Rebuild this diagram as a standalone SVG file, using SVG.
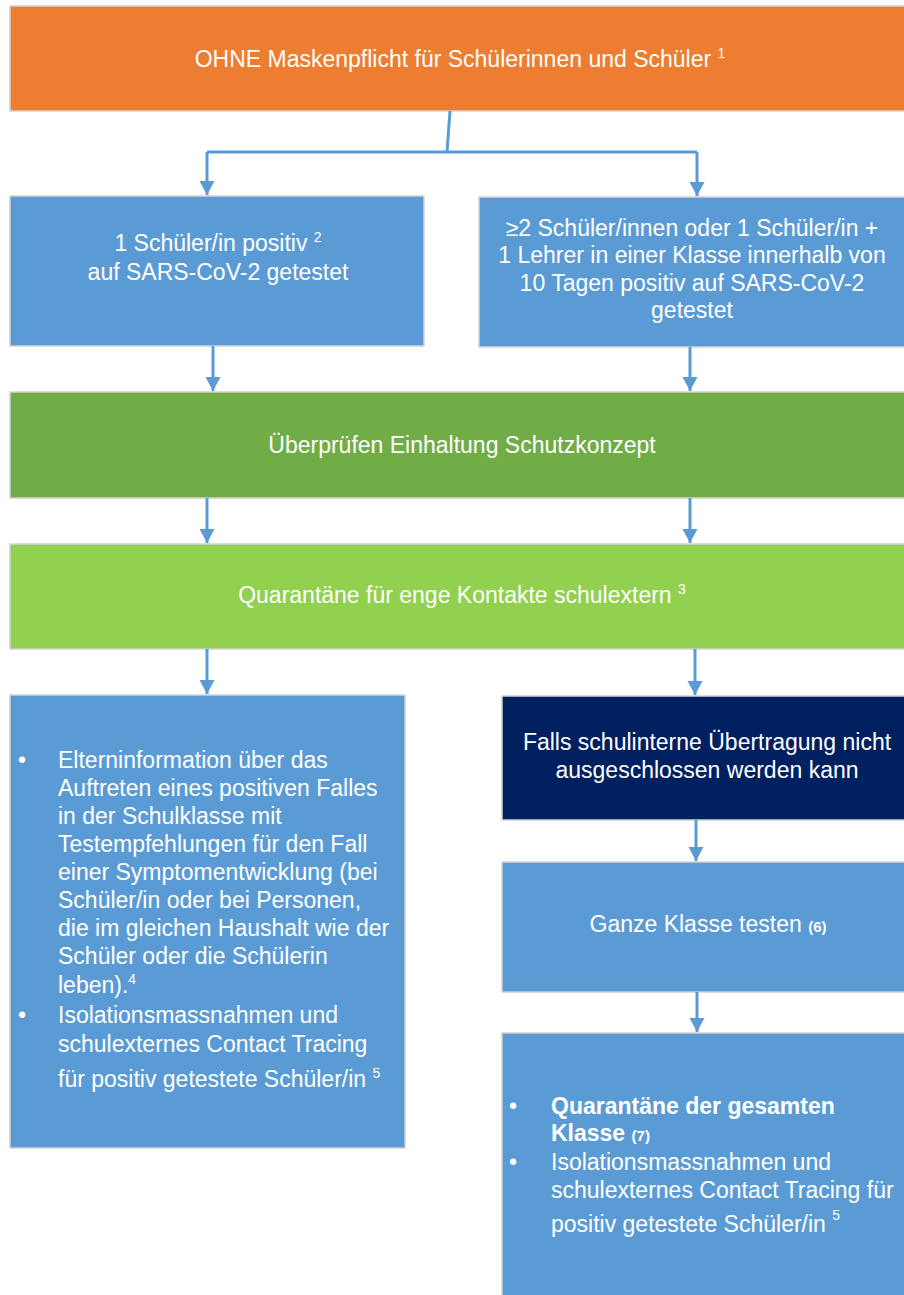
<svg xmlns="http://www.w3.org/2000/svg" width="904" height="1295" viewBox="0 0 904 1295">
<defs>
<style>
.box{stroke:#d2d2d2;stroke-width:1.5}
.t{font-family:"Liberation Sans",Arial,sans-serif;font-size:23px;fill:#ffffff}
.c{text-anchor:middle}
.sup{font-size:14px}
.b{font-weight:bold}
.sm{font-size:15px;font-weight:bold}
.con{stroke:#5b9bd5;stroke-width:3;fill:none}
</style>
<marker id="ah" markerUnits="userSpaceOnUse" markerWidth="16" markerHeight="16" refX="14" refY="8" orient="auto">
<path d="M0,0.5 L14,8 L0,15.5 z" fill="#5b9bd5"/>
</marker>
</defs>
<rect width="904" height="1295" fill="#ffffff"/>

<g id="n-top">
<rect class="box" x="10" y="6" width="910" height="105" fill="#ed7d31"/>
<text class="t c" x="460" y="67">OHNE Maskenpflicht für Schülerinnen und Schüler <tspan class="sup" dy="-9">1</tspan></text>
</g>

<g id="n-one">
<rect class="box" x="10" y="196" width="414" height="150" fill="#5b9bd5"/>
<text class="t c" x="218" y="251">1 Schüler/in positiv <tspan class="sup" dy="-9">2</tspan></text>
<text class="t c" x="218" y="280">auf SARS-CoV-2 getestet</text>
</g>

<g id="n-two">
<rect class="box" x="479" y="197" width="441" height="150" fill="#5b9bd5"/>
<text class="t c" x="692" y="236">≥2 Schüler/innen oder 1 Schüler/in +</text>
<text class="t c" x="692" y="263">1 Lehrer in einer Klasse innerhalb von</text>
<text class="t c" x="692" y="291">10 Tagen positiv auf SARS-CoV-2</text>
<text class="t c" x="692" y="318">getestet</text>
</g>

<g id="n-check">
<rect class="box" x="10" y="392" width="910" height="106" fill="#70ad47"/>
<text class="t c" x="462" y="453">Überprüfen Einhaltung Schutzkonzept</text>
</g>

<g id="n-quar">
<rect class="box" x="10" y="544" width="910" height="105" fill="#92d050"/>
<text class="t c" x="462" y="603">Quarantäne für enge Kontakte schulextern <tspan class="sup" dy="-9">3</tspan></text>
</g>

<g id="n-info">
<rect class="box" x="10" y="695" width="395" height="453" fill="#5b9bd5"/>
<text class="t" x="18" y="768">•</text>
<text class="t" x="58" y="768">Elterninformation über das</text>
<text class="t" x="58" y="796">Auftreten eines positiven Falles</text>
<text class="t" x="58" y="824">in der Schulklasse mit</text>
<text class="t" x="58" y="852">Testempfehlungen für den Fall</text>
<text class="t" x="58" y="880">einer Symptomentwicklung (bei</text>
<text class="t" x="58" y="908">Schüler/in oder bei Personen,</text>
<text class="t" x="58" y="936">die im gleichen Haushalt wie der</text>
<text class="t" x="58" y="964">Schüler oder die Schülerin</text>
<text class="t" x="58" y="993">leben).<tspan class="sup" dy="-9">4</tspan></text>
<text class="t" x="18" y="1023">•</text>
<text class="t" x="58" y="1023">Isolationsmassnahmen und</text>
<text class="t" x="58" y="1052">schulexternes Contact Tracing</text>
<text class="t" x="58" y="1087">für positiv getestete Schüler/in <tspan class="sup" dy="-9">5</tspan></text>
</g>

<g id="n-falls">
<rect class="box" x="502" y="696" width="418" height="124" fill="#002060"/>
<text class="t c" x="707" y="750">Falls schulinterne Übertragung nicht</text>
<text class="t c" x="707" y="778">ausgeschlossen werden kann</text>
</g>

<g id="n-test">
<rect class="box" x="502" y="862" width="418" height="130" fill="#5b9bd5"/>
<text class="t c" x="708" y="932">Ganze Klasse testen <tspan class="sm">(6)</tspan></text>
</g>

<g id="n-class">
<rect class="box" x="502" y="1033" width="418" height="280" fill="#5b9bd5"/>
<text class="t" x="509" y="1114">•</text>
<text class="t b" x="551" y="1114">Quarantäne der gesamten</text>
<text class="t b" x="551" y="1141">Klasse <tspan class="sm">(7)</tspan></text>
<text class="t" x="509" y="1170">•</text>
<text class="t" x="551" y="1170">Isolationsmassnahmen und</text>
<text class="t" x="551" y="1198">schulexternes Contact Tracing für</text>
<text class="t" x="551" y="1232">positiv getestete Schüler/in <tspan class="sup" dy="-12">5</tspan></text>
</g>

<g id="connectors">
<path class="con" d="M450,111 L447,152"/>
<path class="con" d="M207,152 L697,152"/>
<path class="con" d="M207,152 L207,195" marker-end="url(#ah)"/>
<path class="con" d="M697,152 L697,196" marker-end="url(#ah)"/>
<path class="con" d="M213,346 L213,391" marker-end="url(#ah)"/>
<path class="con" d="M690,347 L690,391" marker-end="url(#ah)"/>
<path class="con" d="M207,498 L207,543" marker-end="url(#ah)"/>
<path class="con" d="M690,498 L690,543" marker-end="url(#ah)"/>
<path class="con" d="M207,649 L207,694" marker-end="url(#ah)"/>
<path class="con" d="M695,649 L695,695" marker-end="url(#ah)"/>
<path class="con" d="M696,820 L696,861" marker-end="url(#ah)"/>
<path class="con" d="M697,992 L697,1032" marker-end="url(#ah)"/>
</g>
</svg>
